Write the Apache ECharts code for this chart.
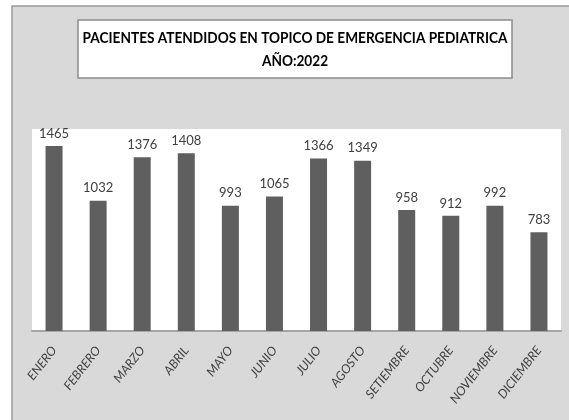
<!DOCTYPE html>
<html>
<head>
<meta charset="utf-8">
<script src="https://cdn.jsdelivr.net/npm/echarts@6/dist/echarts.min.js"></script>
<style>
  html, body { margin: 0; padding: 0; background: #fff; }
  #chart { width: 569px; height: 420px; }
</style>
</head>
<body>
<div id="chart"></div>
<script>
// datos del grafico
const meses = ['ENERO', 'FEBRERO', 'MARZO', 'ABRIL', 'MAYO', 'JUNIO', 'JULIO', 'AGOSTO', 'SETIEMBRE', 'OCTUBRE', 'NOVIEMBRE', 'DICIEMBRE'];
const pacientes = [1465, 1032, 1376, 1408, 993, 1065, 1366, 1349, 958, 912, 992, 783];
const tituloLineas = ['PACIENTES ATENDIDOS EN TOPICO DE EMERGENCIA PEDIATRICA', 'AÑO:2022'];

const FONT = 'Lato, Roboto, sans-serif';

const chart = echarts.init(document.getElementById('chart'));

chart.setOption({
  backgroundColor: '#fff',
  animation: false,
  graphic: [
    // fondo gris del area del grafico
    {
      type: 'rect', z: -10, silent: true,
      shape: { x: 12, y: 6, width: 570, height: 420 },
      style: { fill: '#d9d9d9', stroke: '#9a9a9a', lineWidth: 1.5 }
    },
    // caja del titulo
    {
      type: 'rect', z: -5, silent: true,
      shape: { x: 78, y: 20, width: 434, height: 58 },
      style: { fill: '#fff', stroke: '#8c8c8c', lineWidth: 1.5 }
    },
    // titulo (texto algo comprimido, como Calibri)
    {
      type: 'text', x: 295, y: 38, scaleX: 0.91, silent: true,
      style: {
        text: tituloLineas[0], textAlign: 'center', textVerticalAlign: 'middle',
        font: 'bold 15px ' + FONT, fill: '#000'
      }
    },
    {
      type: 'text', x: 295, y: 61, scaleX: 0.91, silent: true,
      style: {
        text: tituloLineas[1], textAlign: 'center', textVerticalAlign: 'middle',
        font: 'bold 15px ' + FONT, fill: '#000'
      }
    }
  ],
  grid: {
    left: 32, right: 8, top: 129, bottom: 89,
    show: true, backgroundColor: '#fff', borderWidth: 0
  },
  xAxis: {
    type: 'category',
    data: meses,
    axisLine: { lineStyle: { color: '#a6a6a6', width: 2 } },
    axisTick: { show: false },
    axisLabel: {
      interval: 0, rotate: 52, margin: 17,
      fontFamily: FONT, fontStyle: 'italic', fontSize: 12.5, color: '#404040'
    }
  },
  yAxis: {
    type: 'value',
    min: 0, max: 1600,
    show: false,
    splitLine: { show: false }
  },
  series: [{
    type: 'bar',
    data: pacientes,
    barWidth: 17,
    itemStyle: { color: '#5f5f5f' },
    label: {
      show: true, position: 'top', distance: 6,
      fontFamily: FONT, fontSize: 13, color: '#404040'
    }
  }]
});
</script>
</body>
</html>
